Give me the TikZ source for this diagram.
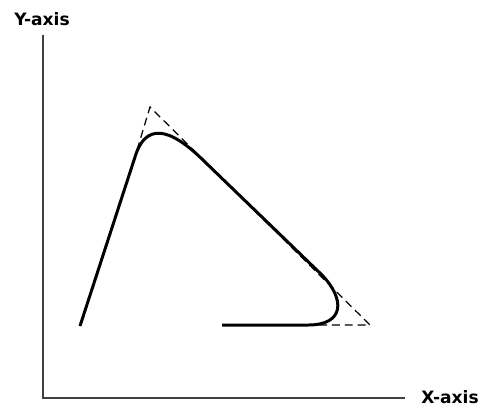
\documentclass[tikz,border=0pt]{standalone}
\usepackage{fontspec}
\setmainfont{DejaVu Sans}
\usepackage{tikz}

\begin{document}
\begin{tikzpicture}[
  x=0.02cm, y=-0.02cm,
  axis/.style={draw, line width=0.8pt, black!75},
  guide/.style={draw, line width=0.7pt, dash pattern=on 4.5pt off 2.8pt},
  curve/.style={draw, line width=1.7pt, line join=round},
  every node/.style={font=\bfseries\fontsize{9.7}{11}\selectfont, inner sep=0pt}
]
\useasboundingbox (0,0) rectangle (482,407);
% axes
\coordinate (O) at (43,398);
\coordinate (ytop) at (43,35);
\coordinate (xend) at (405,398);
\draw[axis] (ytop) -- (O) -- (xend);
\node (ylabel) at (42,19) {Y-axis};
\node (xlabel) at (450,397) {X-axis};
% corners of the guide triangle
\coordinate (start) at (80,326);
\coordinate (apex) at (150,107);
\coordinate (tip) at (370,325);
\coordinate (stop) at (222,325);
\draw[guide] (137,150) -- (apex) -- (tip) -- (305,325);
% the curve
\draw[curve] (start) -- (135,157) .. controls (145,124) and (168,125) .. (205,162)
  -- (322,275) .. controls (345,299) and (345,325) .. (308,325) -- (stop);
\end{tikzpicture}
\end{document}
